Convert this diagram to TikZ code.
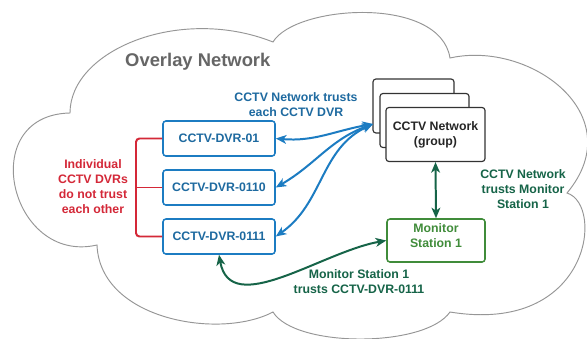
\documentclass[tikz,border=0pt]{standalone}
\usepackage{fontspec}
\setmainfont{Liberation Sans}
\usepackage{tikz}
\usetikzlibrary{
  calc,          % Coordinate math
  arrows.meta    % Stealth tips on the trust links
}

\definecolor{dvrblue}{RGB}{28,124,194}
\definecolor{dvrtext}{RGB}{30,106,160}
\definecolor{trustred}{RGB}{212,40,56}
\definecolor{monigreen}{RGB}{64,140,58}
\definecolor{trustgreen}{RGB}{22,100,72}
\definecolor{cloudgray}{RGB}{150,150,150}
\definecolor{titlegray}{RGB}{102,102,102}

\tikzset{
  lbl/.style={font=\fontsize{10.5}{12.8}\selectfont\bfseries, align=center, inner sep=0pt},
  dvrbox/.style={lbl, draw=dvrblue, text=dvrtext, line width=1.3pt, rounded corners=2.5pt,
    minimum width=3.36cm, minimum height=1.05cm},
  grpbox/.style={lbl, draw=black!80, fill=white, text=black!85, line width=1pt, rounded corners=2.5pt,
    minimum height=1.62cm},
  monbox/.style={lbl, draw=monigreen, line width=1.3pt, rounded corners=2.5pt,
    minimum width=2.94cm, minimum height=1.29cm},
  bluelink/.style={draw=dvrblue, line width=1.7pt, {Stealth[length=9pt, width=7.5pt, inset=2.5pt]}-{Stealth[length=9pt, width=7.5pt, inset=2.5pt]}},
  greenlink/.style={draw=trustgreen, line width=1.7pt, {Stealth[length=9pt, width=7.5pt, inset=2.5pt]}-{Stealth[length=9pt, width=7.5pt, inset=2.5pt]}},
  bracket/.style={draw=trustred, line width=1.7pt, rounded corners=3pt},
  cloudline/.style={draw=cloudgray, line width=0.8pt, fill=white}
}

\begin{document}
\begin{tikzpicture}[x=0.03cm, y=-0.03cm]
            \fill[white] (0,0) rectangle (587,339);
            \useasboundingbox (0,0) rectangle (587,339);
            \draw[cloudline] (70,113) .. controls (70,50) and (180,5) .. (273,42)
                .. controls (295,5) and (440,-5) .. (450,58)
                .. controls (530,40) and (632,115) .. (567,193)
                .. controls (605,205) and (590,335) .. (450,312)
                .. controls (425,348) and (295,348) .. (273,312)
                .. controls (220,340) and (100,320) .. (97,245)
                .. controls (10,265) and (-25,115) .. cycle;
            \node[anchor=west, inner sep=0pt, text=titlegray, font=\fontsize{15.7}{18}\selectfont\bfseries] (title) at (125,62) {Overlay Network};
            \node[dvrbox] (d01) at (219,138.5) {CCTV-DVR-01};
            \node[dvrbox] (d0110) at (219,187.5) {CCTV-DVR-0110};
            \node[dvrbox] (d0111) at (219,236.5) {CCTV-DVR-0111};
            \node[grpbox, minimum width=2.43cm] (grpback) at (413.5,106) {};
            \node[grpbox, minimum width=2.67cm] (grpmid) at (424.5,120.5) {};
            \node[grpbox, minimum width=2.97cm] (grp) at (435.5,134.5) {CCTV Network\\(group)};
            \node[monbox] (mon) at (436,240.5) {};
            \node[lbl, text=monigreen] (montext) at ($(mon.center)+(0,-5)$) {Monitor\\Station 1};
            \coordinate (hub) at (373,124);
            \coordinate (brk) at (136,187.5);
            \node[lbl, text=dvrtext] (bluenote) at (296,104.5) {CCTV Network trusts\\each CCTV DVR};
            \node[lbl, text=trustred] (rednote) at (93,186.5) {Individual\\CCTV DVRs\\do not trust\\each other};
            \node[lbl, text=trustgreen] (grpnote) at (523,189) {CCTV Network\\trusts Monitor\\Station 1};
            \node[lbl, text=trustgreen] (monnote) at (359,281.5) {Monitor Station 1\\trusts CCTV-DVR-0111};
            \draw[bracket] (d01.west) -| (brk) |- (d0111.west);
            \draw[bracket] (d0110.west) -- (brk);
            \draw[bluelink] (d01.east) to[out=-5, in=190] (hub);
            \draw[bluelink] (d0110.east) to[out=30, in=200] (hub);
            \draw[bluelink] (d0111.east) to[out=35, in=205] (hub);
            \draw[greenlink] (grp.south) -- (mon.north);
            \draw[greenlink] (d0111.south) to[out=-80, in=190] (mon.west);
        \end{tikzpicture}
\end{document}
